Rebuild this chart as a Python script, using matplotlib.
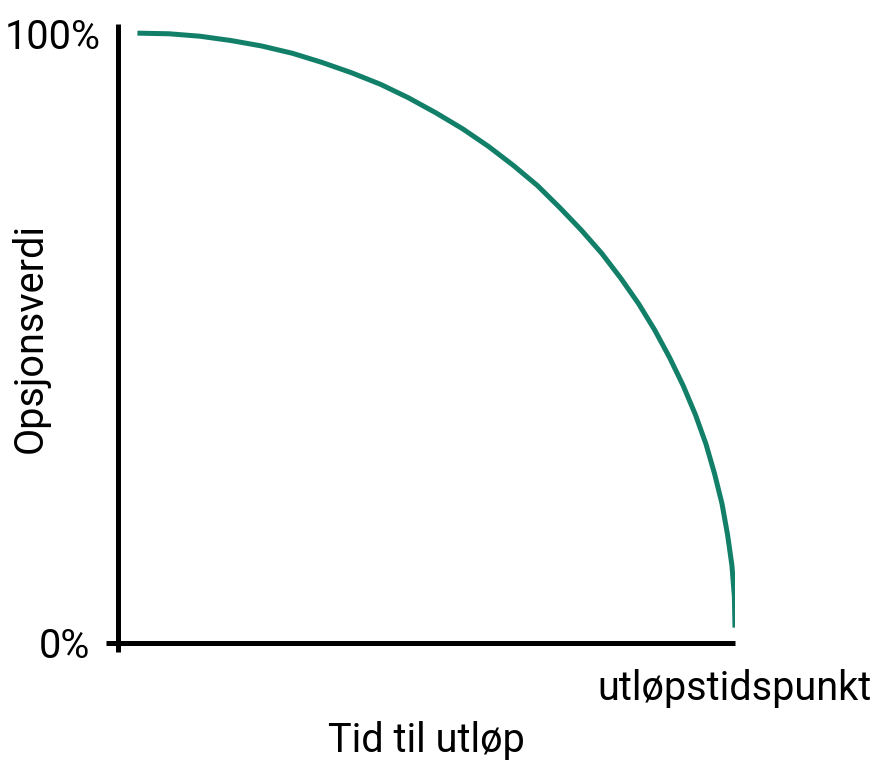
import matplotlib
matplotlib.use("Agg")
import matplotlib.pyplot as plt
from matplotlib.transforms import ScaledTranslation

plt.rcParams["font.family"] = ["Roboto", "DejaVu Sans"]

# tid (0 = nå, 100 = utløp) og opsjonsverdi i %, lest av figuren
tid = [3.2, 8.3, 13.3, 18.3, 23.3, 28.3, 33.1, 37.9, 42.6, 47.1, 51.6,
       55.9, 60.1, 64.1, 68.0, 71.6, 75.1, 78.4, 81.5, 84.4, 87.0,
       89.4, 91.6, 93.6, 95.3, 96.7, 97.9, 98.8, 99.5, 99.9, 100.0]
verdi = [100.0, 99.9, 99.5, 98.8, 97.9, 96.7, 95.2, 93.5, 91.6, 89.4, 86.9,
         84.3, 81.4, 78.3, 75.0, 71.4, 67.7, 63.9, 59.8, 55.6, 51.3,
         46.8, 42.2, 37.4, 32.6, 27.7, 22.8, 17.7, 12.7, 7.6, 2.5]

y_ticks = [0, 100]
y_labels = ["0%", "100%"]
x_ticks = [100]
x_labels = ["utløpstidspunkt"]

fs = 28.5

fig = plt.figure(figsize=(8.75, 7.6), dpi=100)
ax = fig.add_axes([0.1211, 0.1421, 0.7189, 0.8263])

ax.plot(tid, verdi, color="#127f68", linewidth=3.6, solid_capstyle="butt",
        solid_joinstyle="round")

ax.set_xlim(-1.9, 100)
ax.set_ylim(-1.5, 101.5)

ax.spines["left"].set_position(("data", 0))
ax.spines["bottom"].set_position(("data", 0))
ax.spines["top"].set_visible(False)
ax.spines["right"].set_visible(False)
for s in ["left", "bottom"]:
    ax.spines[s].set_linewidth(3.6)
    ax.spines[s].set_capstyle("butt")

ax.set_yticks(y_ticks)
ax.set_yticklabels(y_labels)
ax.set_xticks(x_ticks)
ax.set_xticklabels(x_labels)
ax.tick_params(axis="y", length=0, pad=12.5, labelsize=fs)
ax.tick_params(axis="x", length=0, pad=19, labelsize=fs)

# 0%-etiketten står litt lenger til venstre enn 100%
lbl0 = ax.get_yticklabels()[0]
lbl0.set_transform(lbl0.get_transform() + ScaledTranslation(-10 / 100, 0, fig.dpi_scale_trans))

ax.set_xlabel("Tid til utløp", fontsize=fs)
ax.xaxis.set_label_coords(0.509, -0.110)
ax.set_ylabel("Opsjonsverdi", fontsize=fs, labelpad=-33)

fig.savefig("out.png", dpi=100)
